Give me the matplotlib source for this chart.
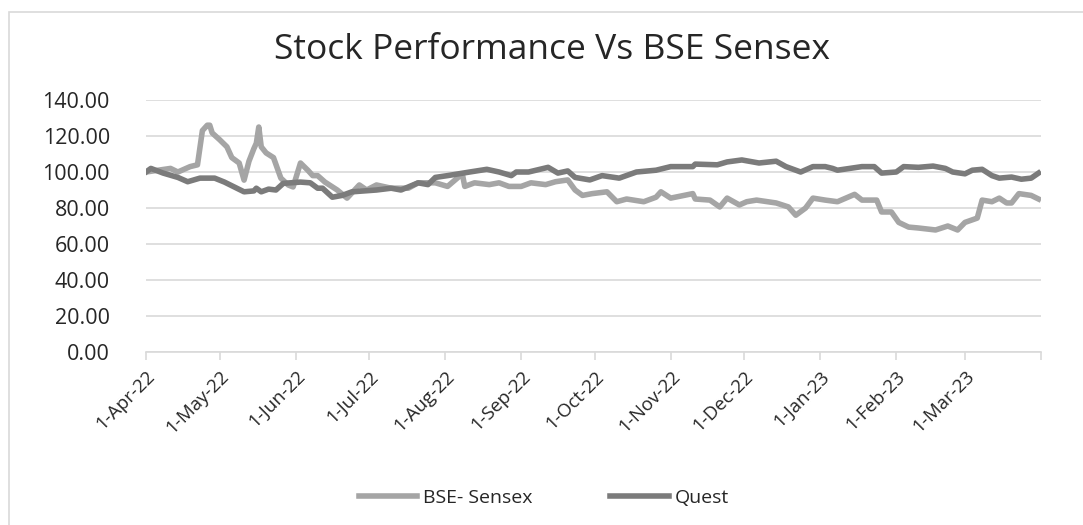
import matplotlib.pyplot as plt
import pandas as pd
from matplotlib.patches import Rectangle

plt.rcParams['font.family'] = ['Open Sans', 'DejaVu Sans']

# BSE- Sensex (light grey line)
bse_dates = ['2022-04-01', '2022-04-11', '2022-04-14', '2022-04-19', '2022-04-22', '2022-04-24',
             '2022-04-26', '2022-04-27', '2022-04-28', '2022-05-01', '2022-05-04', '2022-05-06',
             '2022-05-09', '2022-05-11', '2022-05-13', '2022-05-15', '2022-05-16', '2022-05-17',
             '2022-05-18', '2022-05-20', '2022-05-23', '2022-05-26', '2022-05-29', '2022-05-31',
             '2022-06-03', '2022-06-06', '2022-06-08', '2022-06-10', '2022-06-13', '2022-06-18',
             '2022-06-22', '2022-06-27', '2022-06-30', '2022-07-04', '2022-07-10', '2022-07-17',
             '2022-07-21', '2022-07-28', '2022-08-02', '2022-08-08', '2022-08-09', '2022-08-13',
             '2022-08-19', '2022-08-23', '2022-08-27', '2022-09-01', '2022-09-05', '2022-09-11',
             '2022-09-15', '2022-09-20', '2022-09-23', '2022-09-26', '2022-09-30', '2022-10-06',
             '2022-10-10', '2022-10-14', '2022-10-21', '2022-10-26', '2022-10-28', '2022-11-01',
             '2022-11-10', '2022-11-11', '2022-11-17', '2022-11-21', '2022-11-24', '2022-11-29',
             '2022-12-02', '2022-12-06', '2022-12-14', '2022-12-19', '2022-12-22', '2022-12-26',
             '2022-12-29', '2023-01-03', '2023-01-08', '2023-01-15', '2023-01-18', '2023-01-24',
             '2023-01-26', '2023-01-30', '2023-02-02', '2023-02-06', '2023-02-10', '2023-02-17',
             '2023-02-22', '2023-02-26', '2023-03-01', '2023-03-06', '2023-03-08', '2023-03-12',
             '2023-03-15', '2023-03-18', '2023-03-20', '2023-03-23', '2023-03-28', '2023-03-31']
bse_values = [100, 102, 100, 103, 104, 123,
              126, 126, 121.7, 118, 114, 108,
              105, 95.5, 106, 113, 116, 125,
              114, 110.6, 108, 96.6, 92.8, 91.7,
              105, 101, 98, 98, 94.4, 90,
              85.5, 92.8, 90, 92.8, 91, 91,
              94, 94, 92, 99, 92, 94,
              93, 94, 92, 92, 94, 93,
              94.6, 95.6, 90, 87, 88, 89,
              83.5, 85, 83.5, 86, 89, 85.5,
              88, 85, 84.4, 80.6, 85.5, 81.7,
              83.5, 84.4, 82.8, 80.6, 76, 80,
              85.5, 84.4, 83.5, 87.6, 84.4, 84.4,
              77.8, 77.8, 72, 69.4, 68.9, 67.8,
              70, 67.8, 72, 74.4, 84.4, 83.5,
              85.5, 82.8, 82.8, 88, 87, 85]

# Quest (dark grey line)
quest_dates = ['2022-04-01', '2022-04-03', '2022-04-08', '2022-04-14', '2022-04-18', '2022-04-23',
               '2022-04-29', '2022-05-03', '2022-05-07', '2022-05-11', '2022-05-15', '2022-05-16',
               '2022-05-18', '2022-05-21', '2022-05-24', '2022-05-27', '2022-06-03', '2022-06-07',
               '2022-06-10', '2022-06-12', '2022-06-16', '2022-06-20', '2022-06-24', '2022-07-04',
               '2022-07-10', '2022-07-14', '2022-07-21', '2022-07-25', '2022-07-28', '2022-08-02',
               '2022-08-11', '2022-08-18', '2022-08-23', '2022-08-28', '2022-08-30', '2022-09-04',
               '2022-09-12', '2022-09-16', '2022-09-20', '2022-09-23', '2022-09-29', '2022-10-04',
               '2022-10-11', '2022-10-18', '2022-10-26', '2022-11-01', '2022-11-10', '2022-11-11',
               '2022-11-20', '2022-11-24', '2022-11-30', '2022-12-07', '2022-12-14', '2022-12-18',
               '2022-12-24', '2022-12-29', '2023-01-03', '2023-01-06', '2023-01-08', '2023-01-18',
               '2023-01-23', '2023-01-26', '2023-02-01', '2023-02-04', '2023-02-10', '2023-02-16',
               '2023-02-21', '2023-02-24', '2023-03-01', '2023-03-04', '2023-03-08', '2023-03-12',
               '2023-03-15', '2023-03-20', '2023-03-24', '2023-03-28', '2023-03-31']
quest_values = [100, 102, 99.4, 97, 94.6, 96.6,
                96.6, 94.4, 91.7, 89, 89.5, 91,
                89, 90.5, 90, 93.7, 94.4, 94,
                91, 91, 86, 87, 89, 90,
                91, 90, 94, 93, 97, 98,
                100, 101.5, 100, 98, 100, 100,
                102.6, 99.4, 100.6, 97, 95.6, 98,
                96.6, 100, 101, 103, 103, 104.4,
                104, 105.6, 106.7, 105, 106, 103,
                100, 103, 103, 102, 101, 103,
                103, 99.4, 100, 103, 102.6, 103.3,
                102, 100, 99, 101, 101.5, 98,
                96.6, 97.2, 96, 96.6, 99.4]

tick_dates = ['2022-04-01', '2022-05-01', '2022-06-01', '2022-07-01', '2022-08-01', '2022-09-01',
              '2022-10-01', '2022-11-01', '2022-12-01', '2023-01-01', '2023-02-01', '2023-03-01',
              '2023-04-01']
tick_labels = ['1-Apr-22', '1-May-22', '1-Jun-22', '1-Jul-22', '1-Aug-22', '1-Sep-22',
               '1-Oct-22', '1-Nov-22', '1-Dec-22', '1-Jan-23', '1-Feb-23', '1-Mar-23', '']
y_ticks = [0, 20, 40, 60, 80, 100, 120, 140]

text_col = '#262626'

fig = plt.figure(figsize=(10.83, 5.25), dpi=100)
ax = fig.add_axes([0.1348, 0.3295, 0.8264, 0.48])

ax.plot(pd.to_datetime(bse_dates), bse_values, color='#A5A5A5', lw=4,
        label='BSE- Sensex', solid_joinstyle='round', zorder=3)
ax.plot(pd.to_datetime(quest_dates), quest_values, color='#7B7B7B', lw=4,
        label='Quest', solid_joinstyle='round', zorder=4)

ax.set_xlim(pd.Timestamp('2022-04-01'), pd.Timestamp('2023-04-01'))
ax.set_ylim(0, 140)
ax.set_yticks(y_ticks)
ax.set_yticklabels([f'{v:.2f}' for v in y_ticks], fontsize=15.5, color=text_col)
ax.set_xticks(pd.to_datetime(tick_dates))
ax.set_xticklabels(tick_labels, rotation=45, ha='right', rotation_mode='anchor',
                   fontsize=13.5, color=text_col)
ax.grid(axis='y', color='#D9D9D9', lw=1.2)
ax.set_axisbelow(True)

for s in ['top', 'right', 'left']:
    ax.spines[s].set_visible(False)
ax.spines['bottom'].set_color('#D9D9D9')
ax.spines['bottom'].set_linewidth(1.2)
ax.tick_params(axis='x', color='#D9D9D9', length=6, width=1.2, pad=5)
ax.tick_params(axis='y', length=0, pad=26)

fig.text(0.51, 0.905, 'Stock Performance Vs BSE Sensex', ha='center', va='center',
         fontsize=25.5, color=text_col)

fig.legend(loc='center', bbox_to_anchor=(0.502, 0.052), ncol=2, frameon=False,
           fontsize=14, handlelength=3.0, columnspacing=4, handletextpad=0.3,
           labelcolor=text_col)

# outer chart border (top and left edges visible)
fig.patches.append(Rectangle((0.0083, -0.05), 1.1, 1.027, transform=fig.transFigure,
                             fill=False, edgecolor='#D9D9D9', lw=1.2))

fig.savefig('out.png', dpi=100)
